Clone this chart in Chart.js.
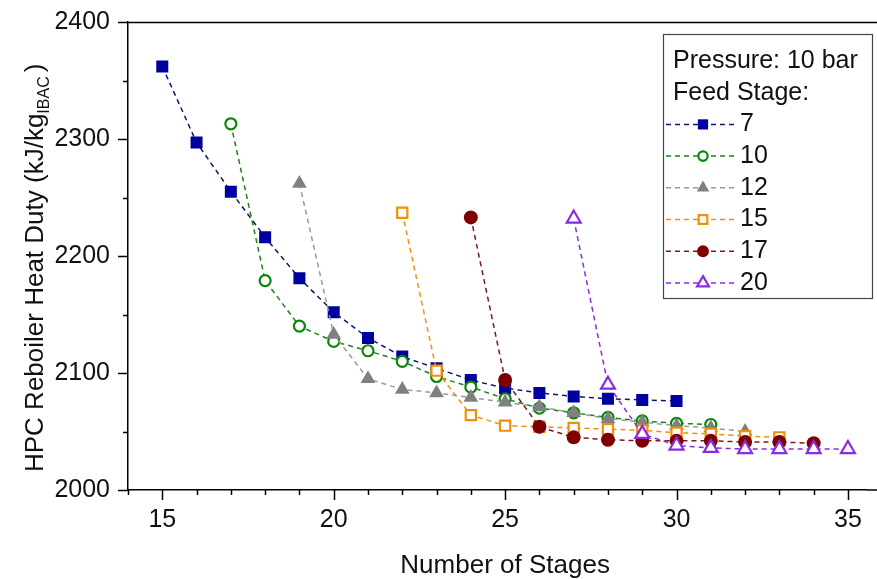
<!DOCTYPE html>
<html>
<head>
<meta charset="utf-8">
<script src="https://cdn.jsdelivr.net/npm/chart.js@4.4.1/dist/chart.umd.min.js"></script>
<style>
  html, body { margin: 0; padding: 0; background: #fff; overflow: hidden; }
  #wrap { width: 877px; height: 579px; position: relative; }
</style>
</head>
<body>
<div id="wrap"><canvas id="c" width="877" height="579"></canvas></div>
<script>
// HPC reboiler heat duty vs. number of stages, one series per feed stage (10 bar)
const feedStages = ['7', '10', '12', '15', '17', '20'];

const stages7  = [15, 16, 17, 18, 19, 20, 21, 22, 23, 24, 25, 26, 27, 28, 29, 30];
const duty7    = [2362, 2297, 2255, 2216, 2181, 2152, 2130, 2114, 2104, 2094, 2087, 2083, 2080, 2078, 2077, 2076];

const stages10 = [17, 18, 19, 20, 21, 22, 23, 24, 25, 26, 27, 28, 29, 30, 31];
const duty10   = [2313, 2179, 2140, 2127, 2119, 2110, 2097, 2088, 2078, 2070, 2066, 2062, 2059, 2057, 2056];

const stages12 = [19, 20, 21, 22, 23, 24, 25, 26, 27, 28, 29, 30, 31, 32];
const duty12   = [2262, 2133, 2095, 2086, 2083, 2079, 2075, 2071, 2066, 2061, 2058, 2055, 2053, 2050];

const stages15 = [22, 23, 24, 25, 26, 27, 28, 29, 30, 31, 32, 33];
const duty15   = [2237, 2102, 2064, 2055, 2054, 2053, 2052, 2051, 2049, 2048, 2046, 2045];

const stages17 = [24, 25, 26, 27, 28, 29, 30, 31, 32, 33, 34];
const duty17   = [2233, 2094, 2054, 2045, 2043, 2042, 2042, 2042, 2041, 2041, 2040];

const stages20 = [27, 28, 29, 30, 31, 32, 33, 34, 35];
const duty20   = [2232, 2090, 2048, 2038, 2036, 2035, 2035, 2035, 2035];

const xTickLabels = [15, 20, 25, 30, 35];
const yTickLabels = [2000, 2100, 2200, 2300, 2400];

const seriesStages = [stages7, stages10, stages12, stages15, stages17, stages20];
const seriesDuty   = [duty7, duty10, duty12, duty15, duty17, duty20];

// marker / line styling per series
const styles = [
  { line: '#14146e', edge: '#0000a0', fill: '#0000a0', shape: 'rect',     r: 8.5, bw: 0 },
  { line: '#1e801e', edge: '#0a870a', fill: '#ffffff', shape: 'circle',   r: 5.5, bw: 2.2 },
  { line: '#9a9a9a', edge: '#808080', fill: '#808080', shape: 'triangle', r: 8.5, bw: 0 },
  { line: '#f0900a', edge: '#f0900a', fill: '#ffffff', shape: 'rect',     r: 7.2, bw: 2.2 },
  { line: '#7b1a1a', edge: '#800000', fill: '#800000', shape: 'circle',   r: 7,   bw: 0 },
  { line: '#8a2be2', edge: '#8a2be2', fill: '#ffffff', shape: 'triangle', r: 8,   bw: 2.2 }
];

const datasets = feedStages.map((name, i) => ({
  label: name,
  data: seriesStages[i].map((s, k) => ({ x: s, y: seriesDuty[i][k] })),
  borderColor: styles[i].line,
  borderWidth: 1.5,
  borderDash: [5, 4],
  pointStyle: styles[i].shape,
  pointRadius: styles[i].r,
  pointBackgroundColor: styles[i].fill,
  pointBorderColor: styles[i].edge,
  pointBorderWidth: styles[i].bw,
  tension: 0,
  fill: false,
  order: feedStages.length - i
}));

const FONT = '"Liberation Sans", Arial, sans-serif';

// tick marks, top frame line, axis titles and the legend box
const decor = {
  id: 'decor',
  afterDraw(chart) {
    const ctx = chart.ctx;
    const a = chart.chartArea;
    const xs = chart.scales.x, ys = chart.scales.y;
    ctx.save();
    ctx.strokeStyle = '#000';
    ctx.lineWidth = 1.5;
    ctx.beginPath();
    for (let v = 14; v <= 35; v++) {
      const px = Math.round(xs.getPixelForValue(v)) + 0.5;
      const len = v % 5 === 0 ? 10 : 5;
      ctx.moveTo(px, a.bottom);
      ctx.lineTo(px, a.bottom + len);
    }
    for (let v = 2000; v <= 2400; v += 50) {
      const py = Math.round(ys.getPixelForValue(v)) + 0.5;
      const len = v % 100 === 0 ? 10 : 5;
      ctx.moveTo(a.left, py);
      ctx.lineTo(a.left - len, py);
    }
    // top frame line
    ctx.moveTo(a.left, Math.round(a.top) + 0.5);
    ctx.lineTo(chart.width, Math.round(a.top) + 0.5);
    // bottom axis continues to the page edge
    ctx.moveTo(a.right, a.bottom);
    ctx.lineTo(chart.width, a.bottom);
    ctx.stroke();

    // x-axis title, centred on the full frame (which runs to stage 36)
    ctx.fillStyle = '#111';
    ctx.font = '26px ' + FONT;
    ctx.textAlign = 'center';
    ctx.textBaseline = 'alphabetic';
    const frameRight = xs.getPixelForValue(36);
    ctx.fillText('Number of Stages', (a.left + frameRight) / 2, 573);

    // y-axis title with subscript
    const main = 'HPC Reboiler Heat Duty (kJ/kg';
    const sub = 'IBAC';
    const tail = ')';
    ctx.font = '26px ' + FONT;
    const wMain = ctx.measureText(main).width;
    ctx.font = '16px ' + FONT;
    const wSub = ctx.measureText(sub).width;
    ctx.translate(43, 472);
    ctx.rotate(-Math.PI / 2);
    ctx.textAlign = 'left';
    ctx.font = '26px ' + FONT;
    ctx.fillText(main, 0, 0);
    ctx.font = '16px ' + FONT;
    ctx.fillText(sub, wMain, 6);
    ctx.font = '26px ' + FONT;
    ctx.fillText(tail, wMain + wSub + 4, 0);
    ctx.setTransform(1, 0, 0, 1, 0, 0);

    // legend
    const bx = 663.5, by = 34.5, bw = 209, bh = 264;
    ctx.fillStyle = '#fff';
    ctx.fillRect(bx, by, bw, bh);
    ctx.strokeStyle = '#444';
    ctx.lineWidth = 1.2;
    ctx.strokeRect(bx, by, bw, bh);
    ctx.fillStyle = '#111';
    ctx.font = '25px ' + FONT;
    ctx.textBaseline = 'middle';
    ctx.textAlign = 'left';
    const rowH = 31.7;
    ctx.fillText('Pressure: 10 bar', 673, 61);
    ctx.fillText('Feed Stage:', 673, 61 + rowH);
    feedStages.forEach((name, i) => {
      const y = 61 + rowH * (i + 2);
      const s = styles[i];
      ctx.save();
      ctx.strokeStyle = s.line;
      ctx.lineWidth = 1.5;
      ctx.setLineDash([5, 4]);
      ctx.beginPath();
      ctx.moveTo(666, y);
      ctx.lineTo(736, y);
      ctx.stroke();
      ctx.setLineDash([]);
      ctx.fillStyle = s.fill;
      ctx.strokeStyle = s.edge;
      ctx.lineWidth = s.bw;
      Chart.helpers.drawPoint(ctx, {
        pointStyle: s.shape, radius: s.r * 0.85, rotation: 0, borderWidth: s.bw
      }, 703, y);
      ctx.restore();
      ctx.fillStyle = '#111';
      ctx.font = '25px ' + FONT;
      ctx.textBaseline = 'middle';
      ctx.fillText(name, 740, y);
    });
    ctx.restore();
  }
};

function noScalePadding(s) {
  s.paddingTop = 0; s.paddingBottom = 0; s.paddingLeft = 0; s.paddingRight = 0;
}

new Chart(document.getElementById('c'), {
  type: 'line',
  data: { datasets },
  options: {
    responsive: false,
    animation: false,
    layout: { padding: { top: 22, right: 0, left: 0, bottom: 0 } },
    plugins: { legend: { display: false }, tooltip: { enabled: false } },
    scales: {
      x: {
        type: 'linear',
        min: 14,
        max: 35.55,
        afterFit(s) { s.height = 89; noScalePadding(s); },
        afterBuildTicks(s) { s.ticks = xTickLabels.map(v => ({ value: v })); },
        ticks: { color: '#111', font: { size: 25, family: FONT }, padding: 15, maxRotation: 0, autoSkip: false,
                 callback: v => String(v) },
        grid: { display: true, drawOnChartArea: false, drawTicks: false },
        border: { display: true, color: '#000', width: 1.5 }
      },
      y: {
        min: 2000,
        max: 2400,
        afterFit(s) { s.width = 128; noScalePadding(s); },
        afterBuildTicks(s) { s.ticks = yTickLabels.map(v => ({ value: v })); },
        ticks: { color: '#111', font: { size: 25, family: FONT }, padding: 18,
                 callback: v => String(v) },
        grid: { display: true, drawOnChartArea: false, drawTicks: false },
        border: { display: true, color: '#000', width: 1.5 }
      }
    }
  },
  plugins: [decor]
});
</script>
</body>
</html>
